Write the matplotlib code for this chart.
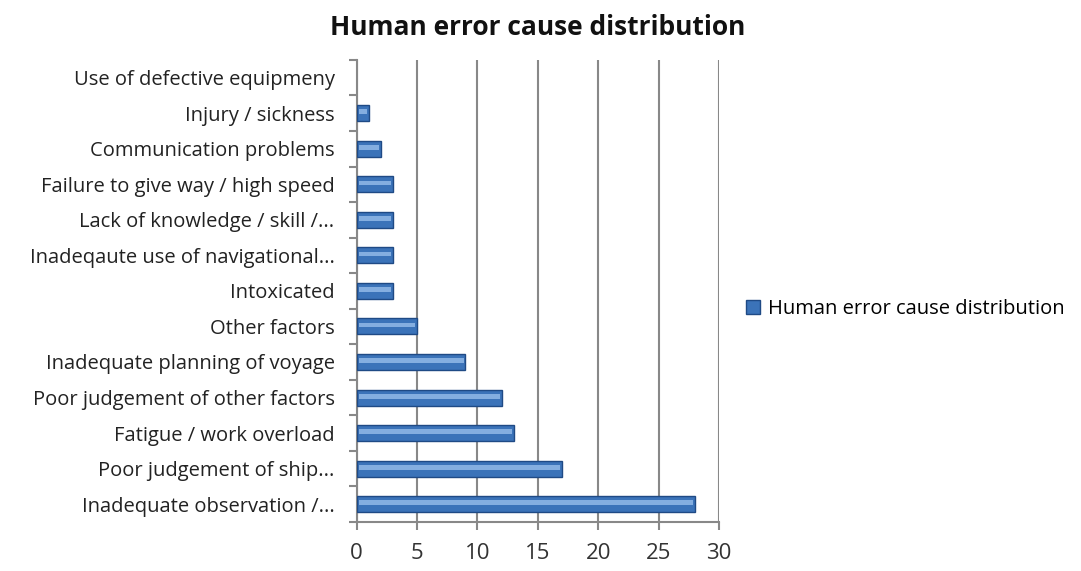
import matplotlib.pyplot as plt
import numpy as np

plt.rcParams['font.family'] = ['Open Sans', 'DejaVu Sans']

# categories listed bottom to top
causes = ['Inadequate observation /...', 'Poor judgement of ship...',
          'Fatigue / work overload', 'Poor judgement of other factors',
          'Inadequate planning of voyage', 'Other factors', 'Intoxicated',
          'Inadeqaute use of navigational...', 'Lack of knowledge / skill /...',
          'Failure to give way / high speed', 'Communication problems',
          'Injury / sickness', 'Use of defective equipmeny']
counts = [28, 17, 13, 12, 9, 5, 3, 3, 3, 3, 2, 1, 0]
xticks = [0, 5, 10, 15, 20, 25, 30]

fig = plt.figure(figsize=(10.81, 5.71), dpi=100)
ax = fig.add_axes([0.330, 0.086, 0.335, 0.809])

y = np.arange(len(causes))
h = 0.45
bars = ax.barh(y, counts, height=h, color='#3b73b9', edgecolor='#1f4a85',
               linewidth=[1.0 if c > 0 else 0 for c in counts], zorder=3,
               label='Human error cause distribution')
# lighter band to fake the glossy look
ax.barh(y + 0.04, [max(c - 0.35, 0) for c in counts], left=0.2, height=h * 0.3,
        color='#84aee0', linewidth=0, zorder=4)

ax.set_xlim(0, 30)
ax.set_ylim(-0.5, len(causes) - 0.5)
ax.set_xticks(xticks)
ax.set_xticklabels([str(t) for t in xticks], fontsize=16, color='#333333')
ax.set_yticks(y)
ax.set_yticklabels(causes, fontsize=14.5, color='#222222')
ax.tick_params(axis='y', length=0, pad=16)
ax.set_yticks(np.arange(-0.5, len(causes), 1), minor=True)
ax.tick_params(axis='y', which='minor', length=6, color='#888888', width=1.5)
ax.tick_params(axis='x', length=6, color='#888888', width=1.5, pad=9)

ax.grid(axis='x', color='#888888', linewidth=1.5, zorder=0)
for s in ['top', 'right']:
    ax.spines[s].set_visible(False)
for s in ['left', 'bottom']:
    ax.spines[s].set_color('#888888')
    ax.spines[s].set_linewidth(1.5)

ax.set_title('Human error cause distribution', fontsize=19, fontweight='bold',
             color='#111111', pad=18)

fig.legend(handles=[bars], labels=['Human error cause distribution'],
           loc='center left', bbox_to_anchor=(0.673, 0.458), frameon=False,
           fontsize=14.5, handlelength=0.7, handleheight=0.7, handletextpad=0.4)

fig.savefig('out.png', dpi=100)
